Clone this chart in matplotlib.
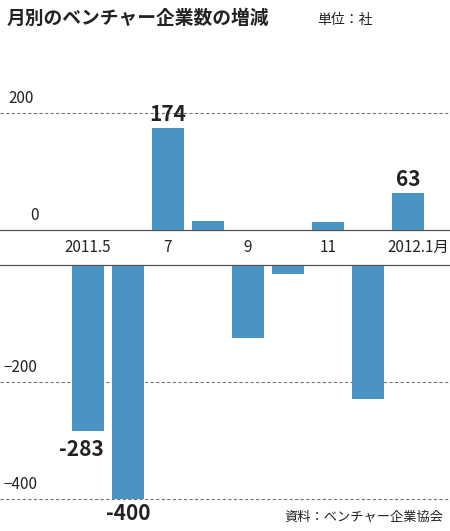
import numpy as np
import matplotlib
matplotlib.use('Agg')
import matplotlib.pyplot as plt

plt.rcParams['font.family'] = ['Noto Sans CJK JP', 'DejaVu Sans']

months = ['2011.5', '', '7', '', '9', '', '11', '', '2012.1月']
values = [-283, -400, 174, 15, -125, -15, 14, -229, 63]
labeled = {0: '-283', 1: '-400', 2: '174', 8: '63'}
gridvals = [200, -200, -400]

# pixel scale: 0.585 px per unit, negative part shifted down by the label band
px = 0.585
gap = 35 / px
def ypos(v):
    return v if v >= 0 else v - gap

fig = plt.figure(figsize=(4.5, 5.31), dpi=100)
ax = fig.add_axes([0, 0, 1, 1])
ax.set_xlim(0, 450)
ax.set_ylim(-(531 - 230) / px, 230 / px)
ax.axis('off')

x = 88 + 40 * np.arange(len(values))
col = '#4a94c4'
for xi, v in zip(x, values):
    if v >= 0:
        ax.bar(xi, v, width=32, bottom=0, color=col, zorder=3)
    else:
        ax.bar(xi, v, width=32, bottom=-gap, color=col, zorder=3)

for g in gridvals:
    ax.axhline(ypos(g), color='#777777', lw=0.8, ls=(0, (3, 2)), zorder=1)
    ax.text(8 if g > 0 else 3, ypos(g) + 6 / px, str(g).replace('-', '−'),
            fontsize=11, color='#222222', ha='left', va='bottom')
ax.text(30, 6 / px, '0', fontsize=11, color='#222222', ha='left', va='bottom')
ax.axhline(0, color='#555555', lw=0.9, zorder=4)
ax.axhline(-gap, color='#555555', lw=0.9, zorder=4)

for xi, m in zip(x, months):
    if m:
        ax.text(xi + (10 if m.endswith('月') else 0), -gap / 2, m, fontsize=11,
                ha='center', va='center', color='#222222')

for i, lab in labeled.items():
    v = values[i]
    if i == 0:
        ax.text(x[i] + 16, ypos(v) - 8 / px, lab, fontsize=15, fontweight='bold',
                ha='right', va='top', color='#222222')
    elif v < 0:
        ax.text(x[i], ypos(v) - 4 / px, lab, fontsize=15, fontweight='bold',
                ha='center', va='top', color='#222222')
    else:
        ax.text(x[i], v + 3 / px, lab, fontsize=15, fontweight='bold',
                ha='center', va='bottom', color='#222222')

fig.text(0.015, 0.965, '月別のベンチャー企業数の増減', fontsize=13.5, fontweight='bold',
         ha='left', va='center', color='#222222')
fig.text(0.705, 0.962, '単位：社', fontsize=10, ha='left', va='center', color='#222222')
fig.text(0.985, 0.025, '資料：ベンチャー企業協会', fontsize=9.5, ha='right', va='center',
         color='#222222')

fig.savefig('out.png', dpi=100)
